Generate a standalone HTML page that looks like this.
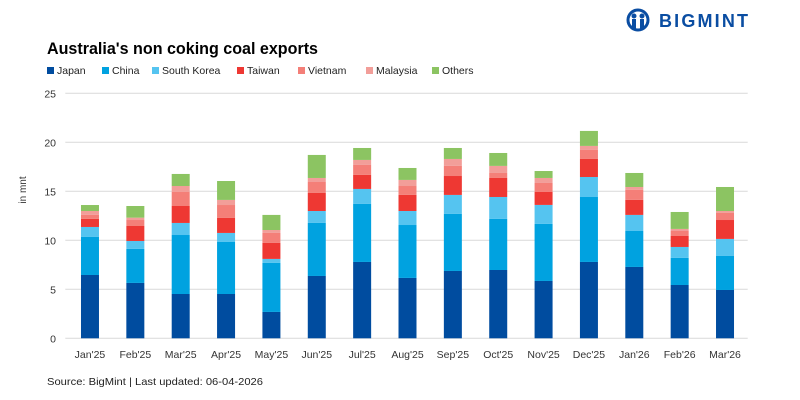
<!DOCTYPE html>
<html><head><meta charset="utf-8"><style>
body{margin:0;background:#fff;font-family:"Liberation Sans",sans-serif;}
#wrap{position:relative;width:800px;height:400px;overflow:hidden;}
</style></head><body>
<div id="wrap">
<svg width="800" height="400" id="svg">
  <g>
    <circle cx="638" cy="20" r="10" fill="none" stroke="#0A4DA2" stroke-width="3"/>
    <circle cx="634" cy="16" r="2.5" fill="#0A4DA2"/><circle cx="642" cy="16" r="2.5" fill="#0A4DA2"/>
    <rect x="632" y="19" width="4" height="10" fill="#0A4DA2"/><rect x="640" y="19" width="4" height="10" fill="#0A4DA2"/>
    <text x="659" y="27" font-size="18" font-weight="bold" fill="#0A4DA2" textLength="89" lengthAdjust="spacing" font-family="Liberation Sans, sans-serif">BIGMINT</text>
  </g>
  <text x="47" y="54" font-size="16.5" font-weight="bold" fill="#000" textLength="271" lengthAdjust="spacingAndGlyphs">Australia's non coking coal exports</text>
  <g id="legend"></g>
  <g id="grid"></g>
  <g id="bars"></g>
  <g id="xlabels"></g>
  <text transform="translate(26,190) rotate(-90)" text-anchor="middle" font-size="10" fill="#333">in mnt</text>
  <text x="47" y="385" font-size="10.5" fill="#222" textLength="216" lengthAdjust="spacingAndGlyphs">Source: BigMint | Last updated: 06-04-2026</text>
</svg>
</div>
<script>
const categories=["Jan'25","Feb'25","Mar'25","Apr'25","May'25","Jun'25","Jul'25","Aug'25","Sep'25","Oct'25","Nov'25","Dec'25","Jan'26","Feb'26","Mar'26"];
const seriesNames=["Japan","China","South Korea","Taiwan","Vietnam","Malaysia","Others"];
const japan=[6.46,5.65,4.52,4.52,2.69,6.36,7.79,6.16,6.87,6.97,5.85,7.79,7.28,5.44,4.93];
const china=[3.88,3.47,6.02,5.31,5.0,5.41,5.92,5.4,5.82,5.21,5.82,6.63,3.67,2.76,3.47];
const southKorea=[1.02,0.81,1.23,0.92,0.41,1.22,1.53,1.43,1.94,2.24,1.94,2.04,1.64,1.12,1.74];
const taiwan=[0.82,1.53,1.73,1.53,1.63,1.84,1.43,1.64,1.93,1.94,1.32,1.84,1.53,1.12,1.93];
const vietnam=[0.41,0.61,1.43,1.32,1.02,1.12,1.02,0.91,1.03,0.51,0.92,0.92,1.02,0.51,0.72];
const malaysia=[0.4,0.24,0.61,0.52,0.3,0.41,0.51,0.62,0.71,0.72,0.51,0.41,0.3,0.21,0.2];
const others=[0.61,1.19,1.23,1.93,1.54,2.35,1.22,1.22,1.12,1.32,0.71,1.53,1.43,1.73,2.45];
const yTicks=[0,5,10,15,20,25];
const colors=["#004C9F","#00A2E0","#55C4F0","#EE3833","#F47F78","#F29E99","#8CC462"];
const series=[japan,china,southKorea,taiwan,vietnam,malaysia,others];
const NS="http://www.w3.org/2000/svg";
const X0=67.3,X1=747.7,Y0=338.3,PPU=9.8,BW=18;
const band=(X1-X0)/categories.length;
const xC=i=>X0+band*(i+0.5);
const y=v=>Y0-v*PPU;
function mk(tag,attrs,parent){const e=document.createElementNS(NS,tag);for(const k in attrs)e.setAttribute(k,attrs[k]);parent.appendChild(e);return e;}
const grid=document.getElementById('grid');
yTicks.forEach(t=>{
  const l=mk('line',{x1:X0-2,x2:X1,y1:y(t),y2:y(t),stroke:'#d9d9d9','stroke-width':1},grid);
  
  
  const tx=mk('text',{x:56,y:y(t)+4,'text-anchor':'end','font-size':10.5,fill:'#333'},grid);
  tx.textContent=t;
  
  
});
const bars=document.getElementById('bars');
categories.forEach((c,i)=>{
  let acc=0;
  series.forEach((s,k)=>{
    const v=s[i];
    const r=mk('rect',{x:xC(i)-BW/2,y:y(acc+v),width:BW,height:v*PPU,fill:colors[k]},bars);
    
    
    acc+=v;
  });
  const tx=mk('text',{x:xC(i),y:358,'text-anchor':'middle','font-size':10.5,fill:'#333'},document.getElementById('xlabels'));
  tx.textContent=c;
  
  
});
const legX=[47,102,152,237,298,366,432];
const leg=document.getElementById('legend');
seriesNames.forEach((n,k)=>{
  const g=mk('g',{},leg);
  
  
  mk('rect',{x:legX[k],y:67,width:7,height:7,fill:colors[k]},g);
  const t=mk('text',{x:legX[k]+10,y:74,'font-size':10.5,fill:'#222'},g);
  t.textContent=n;
});
</script>
</body></html>
